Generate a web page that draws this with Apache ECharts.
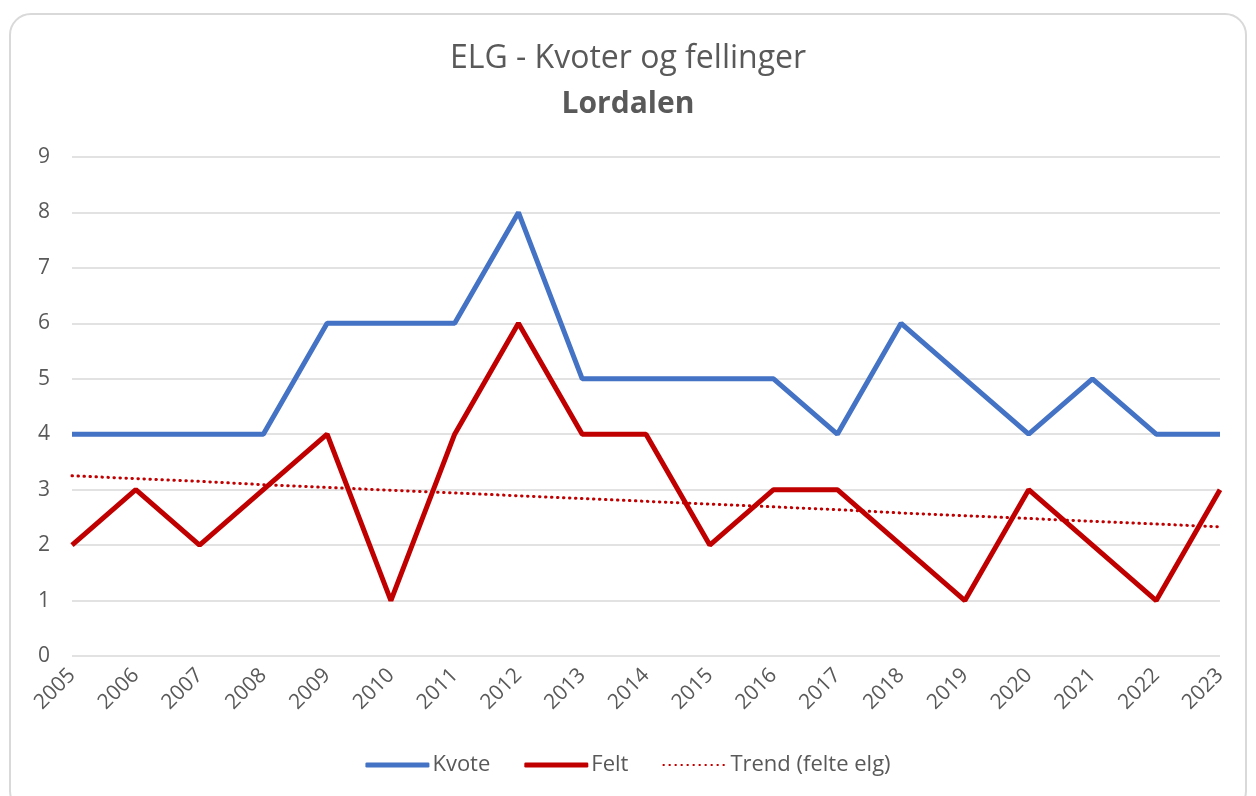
<!DOCTYPE html>
<html>
<head>
<meta charset="utf-8">
<script src="https://cdn.jsdelivr.net/npm/echarts@6/dist/echarts.min.js"></script>
<style>
html,body{margin:0;padding:0;background:#fff;}
#frame{position:absolute;left:9px;top:13px;width:1238px;height:800px;border:2px solid #d9d9d9;border-radius:22px;box-sizing:border-box;}
#chart{position:absolute;left:0;top:0;width:1256px;height:796px;}
</style>
</head>
<body>
<div id="frame"></div>
<div id="chart"></div>
<script>
const years = ['2005','2006','2007','2008','2009','2010','2011','2012','2013','2014','2015','2016','2017','2018','2019','2020','2021','2022','2023'];
const kvote = [4,4,4,4,6,6,6,8,5,5,5,5,4,6,5,4,5,4,4];
const felt = [2,3,2,3,4,1,4,6,4,4,2,3,3,2,1,3,2,1,3];
const trend = [3.25,3.20,3.15,3.09,3.04,2.99,2.94,2.89,2.84,2.79,2.74,2.69,2.64,2.58,2.53,2.48,2.43,2.38,2.33];
const yTicks = [0,1,2,3,4,5,6,7,8,9];

const FONT = 'Open Sans';
const chart = echarts.init(document.getElementById('chart'), null, {renderer:'canvas'});
chart.setOption({
  backgroundColor: 'transparent',
  animation: false,
  title: [
    {text: 'ELG - Kvoter og fellinger', left: 'center', top: 38,
     textStyle: {fontFamily: FONT, fontSize: 32, fontWeight: 'normal', color: '#595959'}},
    {text: 'Lordalen', left: 'center', top: 84,
     textStyle: {fontFamily: FONT, fontSize: 30, fontWeight: 'bold', color: '#595959'}}
  ],
  legend: {
    bottom: 15,
    left: 'center',
    itemWidth: 64,
    itemHeight: 5,
    itemGap: 34,
    textStyle: {fontFamily: FONT, fontSize: 22, color: '#595959', padding: [0,0,0,-2]},
    data: [
      {name: 'Kvote', icon: 'roundRect'},
      {name: 'Felt', icon: 'roundRect'},
      {name: 'Trend (felte elg)', itemStyle: {opacity: 0}}
    ]
  },
  grid: {left: 72, right: 36, top: 157, bottom: 140, containLabel: false},
  xAxis: {
    type: 'category',
    data: years,
    boundaryGap: false,
    axisLine: {show: false},
    axisTick: {show: false},
    axisLabel: {rotate: 45, fontFamily: FONT, fontSize: 21, color: '#595959', margin: 16, interval: 0}
  },
  yAxis: {
    type: 'value',
    min: yTicks[0],
    max: yTicks[yTicks.length-1],
    interval: 1,
    axisLine: {show: false},
    axisTick: {show: false},
    axisLabel: {fontFamily: FONT, fontSize: 21, color: '#595959', margin: 22},
    splitLine: {lineStyle: {color: '#d9d9d9', width: 1.5}}
  },
  series: [
    {name: 'Kvote', type: 'line', data: kvote, symbol: 'none', lineStyle: {color: '#4472C4', width: 5}, itemStyle: {color: '#4472C4'}},
    {name: 'Felt', type: 'line', data: felt, symbol: 'none', lineStyle: {color: '#C00000', width: 5}, itemStyle: {color: '#C00000'}},
    {name: 'Trend (felte elg)', type: 'line', data: trend, symbol: 'none', z: 1,
     lineStyle: {color: '#C00000', width: 3, type: [0.5, 5.5], cap: 'round'}, itemStyle: {color: '#C00000'}}
  ]
});
</script>
</body>
</html>
